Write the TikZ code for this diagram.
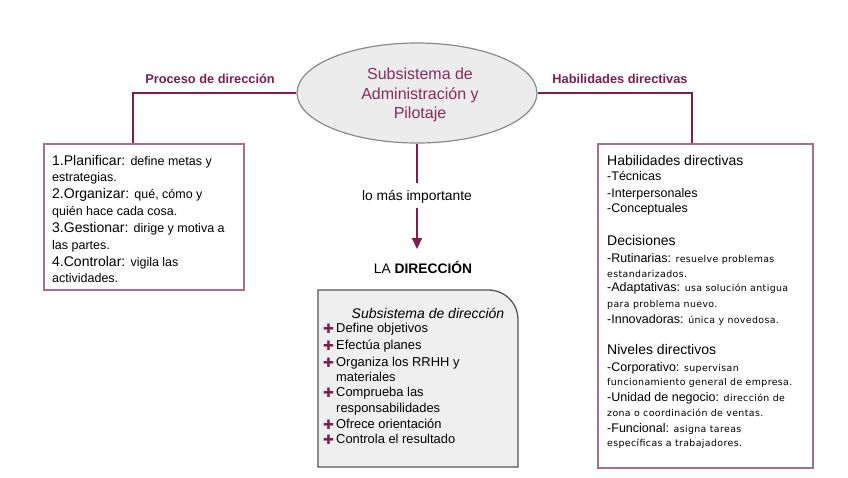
\documentclass[tikz,border=0pt]{standalone}
\usepackage{fontspec}
\setmainfont{Liberation Sans}
\newfontfamily\dv{DejaVu Sans}
\newfontfamily\dvs[LetterSpace=4]{DejaVu Sans}
\usetikzlibrary{shapes.geometric,arrows.meta}
\definecolor{maroon}{HTML}{7D1E4E}
\definecolor{elltext}{HTML}{8A2C5C}
\definecolor{boxline}{HTML}{A8708E}
\definecolor{ellfill}{HTML}{ECECEC}
\definecolor{ellline}{HTML}{8A8A8A}
\definecolor{subfill}{HTML}{EFEFEF}
\definecolor{subline}{HTML}{555555}
\newcommand{\Bg}{\fontsize{12.5}{14}\selectfont}
\newcommand{\Bi}{\fontsize{12.9}{14}\selectfont}
\newcommand{\LBg}{\fontsize{14}{16}\selectfont}
\newcommand{\LSm}{\fontsize{12.5}{14}\selectfont}
\newcommand{\Hd}{\fontsize{14}{16}\selectfont}
\newcommand{\Tn}{\dvs\fontsize{9.4}{11}\selectfont}
\tikzset{
  conn/.style={draw=maroon, line width=2pt},
  lab/.style={text=maroon, font=\fontsize{12.8}{14}\selectfont\bfseries},
  txt/.style={anchor=base west, inner sep=0pt, text=black},
  infobox/.style={draw=boxline, line width=1.5pt, fill=white},
  plusmark/.style={anchor=base west, inner sep=0pt, text=maroon, font=\dv\fontsize{13}{14}\selectfont}
}
\begin{document}
\begin{tikzpicture}[x=1pt,y=-1pt]
\useasboundingbox (0,0) rectangle (848,477);
% central ellipse
\node[ellipse, draw=ellline, line width=1.2pt, fill=ellfill, minimum width=240pt, minimum height=100pt] (ell) at (417,93) {};
\node[text=elltext, align=center, font=\fontsize{16}{19.5}\selectfont, inner sep=0pt] (ellt) at (420,95)
  {Subsistema de\\Administración y\\Pilotaje};
% boxes
\node[infobox, anchor=north west, minimum width=200pt, minimum height=146pt] (lbox) at (43,143) {};
\node[infobox, anchor=north west, minimum width=215pt, minimum height=324pt] (rbox) at (597,143) {};
% connectors
\coordinate (lc) at (133,93);
\coordinate (rc) at (692,93);
\draw[conn] (ell.west) -- (lc) -- (lc |- lbox.north);
\draw[conn] (ell.east) -- (rc) -- (rc |- rbox.north);
\node[lab] (plab) at (210,79) {Proceso de dirección};
\node[lab] (hlab) at (620,79) {Habilidades directivas};
% center
\node[font=\fontsize{13.8}{15}\selectfont, inner sep=1pt] (imp) at (417,197) {lo más importante};
\node[font=\fontsize{13.8}{15}\selectfont, inner sep=1pt] (dir) at (423,267) {LA \textbf{DIRECCIÓN}};
\draw[conn] (ell.south) -- (417,183);
\draw[conn, -{Triangle[length=11pt,width=10pt]}] (417,208) -- (417,249);
% left box text
\node[txt] (l1) at (52,165) {\LBg 1.Planificar: {\LSm define metas y}};
\node[txt] (l2) at (52,181) {\LSm estrategias.};
\node[txt] (l3) at (52,198) {\LBg 2.Organizar: {\LSm qué, cómo y}};
\node[txt] (l4) at (52,215) {\LSm quién hace cada cosa.};
\node[txt] (l5) at (52,232) {\LBg 3.Gestionar: {\LSm dirige y motiva a}};
\node[txt] (l6) at (52,249) {\LSm las partes.};
\node[txt] (l7) at (52,266) {\LBg 4.Controlar: {\LSm vigila las}};
\node[txt] (l8) at (52,282) {\LSm actividades.};
% bottom box
\draw[draw=subline, line width=1.3pt, fill=subfill] (318,467) -- (318,290) -- (488,290)
  .. controls (505,290) and (518,303) .. (518,320) -- (518,467) -- cycle;
\node[font=\fontsize{14}{15}\selectfont\itshape, inner sep=0pt] (stitle) at (428,313) {Subsistema de dirección};
\node[plusmark] (p1) at (323,333) {✚};
\node[txt] (b1) at (336,332) {\Bi Define objetivos};
\node[plusmark] (p2) at (323,350) {✚};
\node[txt] (b2) at (336,349) {\Bi Efectúa planes};
\node[plusmark] (p3) at (323,367) {✚};
\node[txt] (b3) at (336,366) {\Bi Organiza los RRHH y};
\node[txt] (b4) at (336,381) {\Bi materiales};
\node[plusmark] (p5) at (323,397) {✚};
\node[txt] (b5) at (336,396) {\Bi Comprueba las};
\node[txt] (b6) at (336,412) {\Bi responsabilidades};
\node[plusmark] (p7) at (323,429) {✚};
\node[txt] (b7) at (336,428) {\Bi Ofrece orientación};
\node[plusmark] (p8) at (323,444) {✚};
\node[txt] (b8) at (336,443) {\Bi Controla el resultado};
% right box text
\node[txt] (r1) at (607,165) {\Hd Habilidades directivas};
\node[txt] (r2) at (607,180) {\Bg -Técnicas};
\node[txt] (r3) at (607,197) {\Bg -Interpersonales};
\node[txt] (r4) at (607,212) {\Bg -Conceptuales};
\node[txt] (r5) at (607,245) {\Hd Decisiones};
\node[txt] (r6) at (607,262) {\Bg -Rutinarias: {\Tn resuelve problemas}};
\node[txt] (r7) at (607,277) {\Tn estandarizados.};
\node[txt] (r8) at (607,291) {\Bg -Adaptativas: {\Tn usa solución antigua}};
\node[txt] (r9) at (607,307) {\Tn para problema nuevo.};
\node[txt] (r10) at (607,323) {\Bg -Innovadoras: {\Tn única y novedosa.}};
\node[txt] (r11) at (607,354) {\Hd Niveles directivos};
\node[txt] (r12) at (607,371) {\Bg -Corporativo: {\Tn supervisan}};
\node[txt] (r13) at (607,385) {\Tn funcionamiento general de empresa.};
\node[txt] (r14) at (607,401) {\Bg -Unidad de negocio: {\Tn dirección de}};
\node[txt] (r15) at (607,416) {\Tn zona o coordinación de ventas.};
\node[txt] (r16) at (607,432) {\Bg -Funcional: {\Tn asigna tareas}};
\node[txt] (r17) at (607,446) {\Tn específicas a trabajadores.};
\end{tikzpicture}
\end{document}
